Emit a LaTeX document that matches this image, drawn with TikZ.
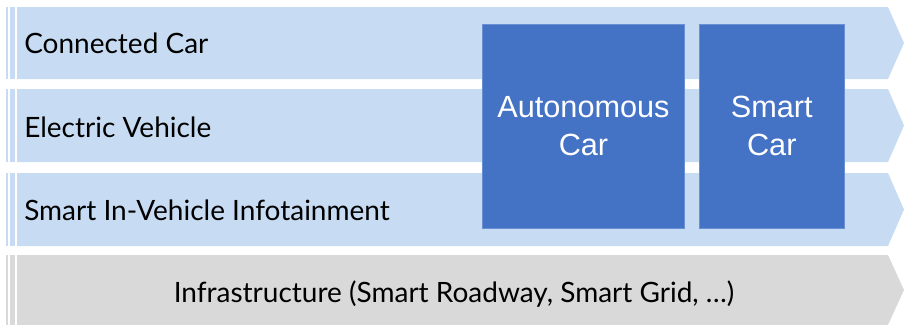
\documentclass[tikz,border=0pt]{standalone}
\usepackage{fontspec}
\setmainfont{Lato}
\newfontfamily\boxfont{Liberation Sans}
\usetikzlibrary{positioning}

\definecolor{laneblue}{HTML}{C7DCF3}
\definecolor{lanegray}{HTML}{D9D9D9}
\definecolor{carblue}{HTML}{4472C4}
\definecolor{caredge}{HTML}{6A90D2}

\begin{document}
\begin{tikzpicture}[x=0.75pt,y=-0.75pt,
		lanetext/.style={anchor=west,inner sep=0pt,font=\fontsize{21}{25}\selectfont},
		basetext/.style={inner sep=0pt,font=\fontsize{21}{25}\selectfont},
		carbox/.style={fill=carblue,draw=caredge,line width=0.6pt,text=white,
			align=center,inner sep=0pt,minimum height=153pt,
			font=\boxfont\fontsize{23}{29}\selectfont}]

		\useasboundingbox (0,0) rectangle (904,325);

		% lanes with the arrow heads on the right
		\foreach \ytop/\ybot/\col in {7/79/laneblue,89/162/laneblue,173/246/laneblue,255/325/lanegray}{
			\fill[\col] (17,\ytop) -- (888,\ytop) -- (904,{(\ytop+\ybot)/2}) -- (888,\ybot) -- (17,\ybot) -- cycle;
			\fill[\col] (5.7,\ytop) rectangle (7.7,\ybot);
			\fill[\col] (10,\ytop) rectangle (14.7,\ybot);
		}

		\node [lanetext] (connected) at (24,43) {Connected Car};
		\node [lanetext] (electric) at (24,127) {Electric Vehicle};
		\node [lanetext] (infotain) at (24,210) {Smart In-Vehicle Infotainment};
		\node [basetext] (infra) at (454,294) {Infrastructure (Smart Roadway, Smart Grid, \ldots)};

		\node [carbox,minimum width=151.2pt] (autonomous) at (583.5,126) {Autonomous\\Car};
		\node [carbox,minimum width=108.8pt] (smart) at (771.8,126) {Smart\\Car};

\end{tikzpicture}
\end{document}
